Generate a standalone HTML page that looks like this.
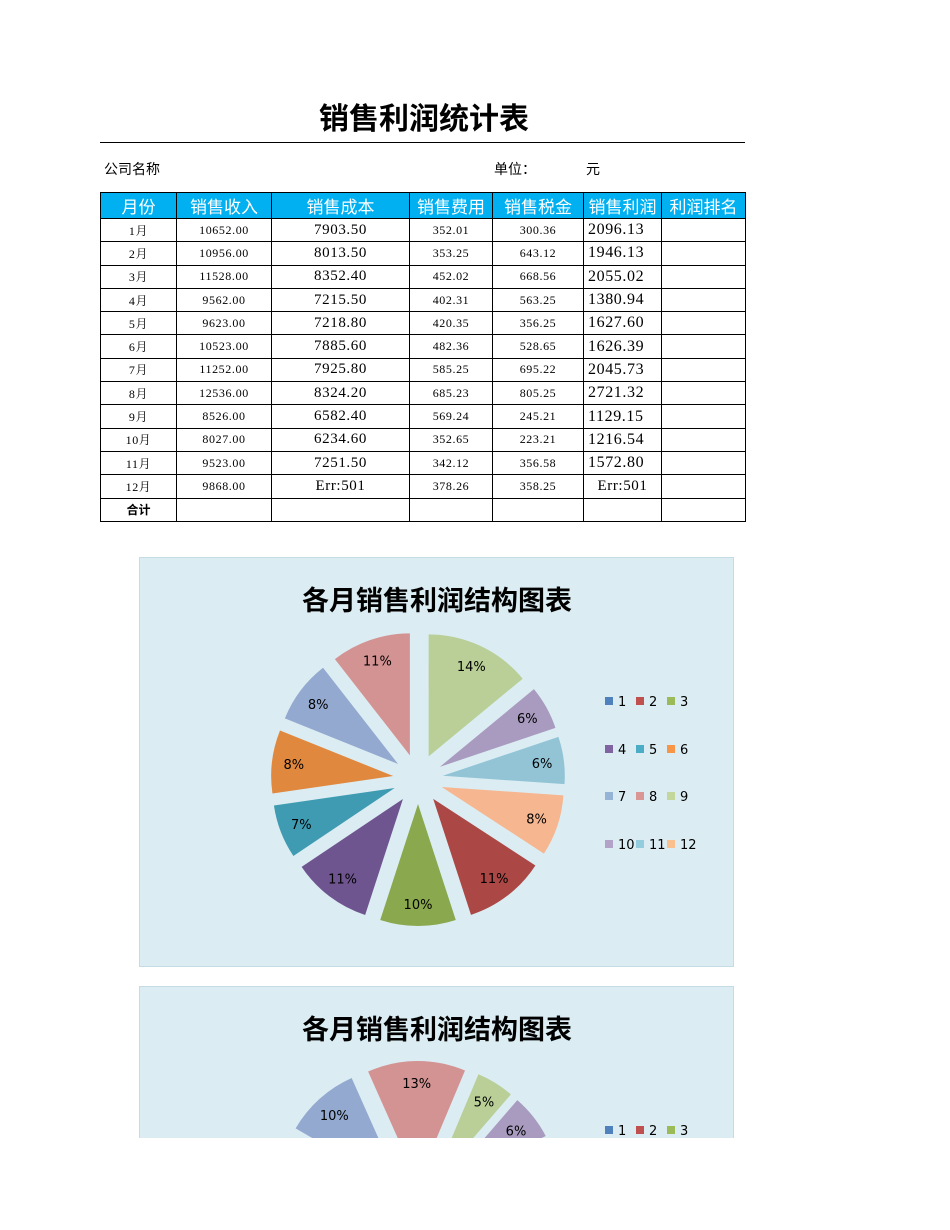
<!DOCTYPE html>
<html style="overflow:hidden"><head><meta charset="utf-8"><style>
html,body{margin:0;background:#fff;font-family:"Liberation Sans","Noto Sans CJK SC",sans-serif;width:950px;height:1230px;overflow:hidden;}
#pg{position:relative;width:950px;height:1230px;overflow:hidden;}
.t{position:absolute;white-space:nowrap;}
table{position:absolute;left:100px;top:192px;border-collapse:collapse;}
td{border:1px solid #000;height:22.3px;padding:0;text-align:center;font-family:"Liberation Serif","Noto Serif CJK SC",serif;font-size:12px;letter-spacing:0.6px;}
tr.h td{background:#00b0f0;color:#fff;font-family:"Liberation Sans","Noto Sans CJK SC",sans-serif;font-size:17px;height:22px;letter-spacing:0;}
td.b{font-size:15px;}
td.p{font-size:16px;text-align:left;padding-left:4px;}
.chart{position:absolute;left:139px;width:593px;background:#dbedf3;border:1px solid #c6dce4;overflow:hidden;}
</style></head><body><div id="pg">
<div class="t" style="left:0;width:848px;text-align:center;top:94px;font-size:30px;font-weight:bold;">销售利润统计表</div>
<div style="position:absolute;left:100px;top:142px;width:645px;height:1px;background:#000"></div>
<div class="t" style="left:104px;top:159px;font-size:14px;">公司名称</div>
<div class="t" style="left:494px;top:159px;font-size:14px;">单位：</div>
<div class="t" style="left:586px;top:159px;font-size:14px;">元</div>
<table>
<colgroup><col style="width:76px"><col style="width:95px"><col style="width:138px"><col style="width:83px"><col style="width:91px"><col style="width:78px"><col style="width:84px"></colgroup>
<tr class="h"><td>月份</td><td>销售收入</td><td>销售成本</td><td>销售费用</td><td>销售税金</td><td>销售利润</td><td>利润排名</td></tr>
<tr><td>1月</td><td>10652.00</td><td class="b">7903.50</td><td>352.01</td><td>300.36</td><td class="p">2096.13</td><td></td></tr>
<tr><td>2月</td><td>10956.00</td><td class="b">8013.50</td><td>353.25</td><td>643.12</td><td class="p">1946.13</td><td></td></tr>
<tr><td>3月</td><td>11528.00</td><td class="b">8352.40</td><td>452.02</td><td>668.56</td><td class="p">2055.02</td><td></td></tr>
<tr><td>4月</td><td>9562.00</td><td class="b">7215.50</td><td>402.31</td><td>563.25</td><td class="p">1380.94</td><td></td></tr>
<tr><td>5月</td><td>9623.00</td><td class="b">7218.80</td><td>420.35</td><td>356.25</td><td class="p">1627.60</td><td></td></tr>
<tr><td>6月</td><td>10523.00</td><td class="b">7885.60</td><td>482.36</td><td>528.65</td><td class="p">1626.39</td><td></td></tr>
<tr><td>7月</td><td>11252.00</td><td class="b">7925.80</td><td>585.25</td><td>695.22</td><td class="p">2045.73</td><td></td></tr>
<tr><td>8月</td><td>12536.00</td><td class="b">8324.20</td><td>685.23</td><td>805.25</td><td class="p">2721.32</td><td></td></tr>
<tr><td>9月</td><td>8526.00</td><td class="b">6582.40</td><td>569.24</td><td>245.21</td><td class="p">1129.15</td><td></td></tr>
<tr><td>10月</td><td>8027.00</td><td class="b">6234.60</td><td>352.65</td><td>223.21</td><td class="p">1216.54</td><td></td></tr>
<tr><td>11月</td><td>9523.00</td><td class="b">7251.50</td><td>342.12</td><td>356.58</td><td class="p">1572.80</td><td></td></tr>
<tr><td>12月</td><td>9868.00</td><td class="b">Err:501</td><td>378.26</td><td>358.25</td><td class="b">Err:501</td><td></td></tr>
<tr><td style="font-family:'Liberation Sans','Noto Sans CJK SC',sans-serif;font-weight:bold;letter-spacing:0">合计</td><td></td><td></td><td></td><td></td><td></td><td></td></tr>
</table>
<div class="chart" style="top:557px;height:408px;"><svg id="s1" width="593" height="408"></svg></div>
<div class="chart" style="top:986px;height:151px;border-bottom:none;"><svg id="s2" width="593" height="151"></svg></div>
</div>
<script>
var NS="http://www.w3.org/2000/svg";
function el(s,t,a,txt){var e=document.createElementNS(NS,t);for(var k in a)e.setAttribute(k,a[k]);if(txt!=null)e.textContent=txt;s.appendChild(e);return e;}
var leg=["#4f81bd","#c0504d","#9bbb59","#8064a2","#4bacc6","#f79646","#95b3d7","#d99694","#c3d69b","#b3a2c7","#93cddd","#fac090"];
function chart(id,cy,start,vals,cols,labs){
 var s=document.getElementById(id);
 el(s,"text",{x:297,y:52,"text-anchor":"middle","font-size":"27","font-weight":"bold","font-family":"Liberation Sans,Noto Sans CJK SC,sans-serif",fill:"#000"},"各月销售利润结构图表");
 var cx=278,r=122,off=25,tot=0;vals.forEach(function(v){tot+=v});
 var a=start;
 vals.forEach(function(v,i){
  var sw=v/tot*360,m=(a+sw/2)*Math.PI/180;
  var ox=cx+off*Math.sin(m),oy=cy-off*Math.cos(m);
  var a1=a*Math.PI/180,a2=(a+sw)*Math.PI/180;
  var x1=ox+r*Math.sin(a1),y1=oy-r*Math.cos(a1),x2=ox+r*Math.sin(a2),y2=oy-r*Math.cos(a2);
  el(s,"path",{d:"M"+ox+","+oy+"L"+x1+","+y1+"A"+r+","+r+" 0 "+(sw>180?1:0)+" 1 "+x2+","+y2+"Z",fill:cols[i]});
  var lr=off+r*0.82;
  el(s,"text",{x:cx+lr*Math.sin(m),y:cy-lr*Math.cos(m)+5,"text-anchor":"middle","font-size":"13",fill:"#000","font-family":"DejaVu Sans,sans-serif"},labs[i]);
  a+=sw;
 });
 var ly=[143,191,238,286];
 for(var i=0;i<12;i++){var row=Math.floor(i/3),c=i%3,x=465+c*31,y=ly[row];
  if(y>s.getAttribute("height")-2)continue;
  el(s,"rect",{x:x,y:y-4,width:8,height:8,fill:leg[i]});
  el(s,"text",{x:x+13,y:y+5,"font-size":"13",fill:"#000","font-family":"DejaVu Sans,sans-serif"},String(i+1));}
}
var cols=["#b9cf97","#a89bbf","#92c4d6","#f6b690","#ab4745","#8aa84d","#6f5590","#3f9bb2","#e0883e","#93a9cf","#d39393"];
chart("s1",221,0,[2721,1129,1217,1573,2096,1946,2055,1381,1628,1626,2046],cols,["14%","6%","6%","8%","11%","10%","11%","7%","8%","8%","11%"]);
chart("s2",221,-24,[13,5,6,9,12,10,11,8,8,8,10],["#d39393","#b9cf97","#a89bbf","#92c4d6","#ab4745","#8aa84d","#6f5590","#3f9bb2","#e0883e","#f6b690","#93a9cf"],["13%","5%","6%","","","","","","","","10%"]);
</script>
</body></html>
